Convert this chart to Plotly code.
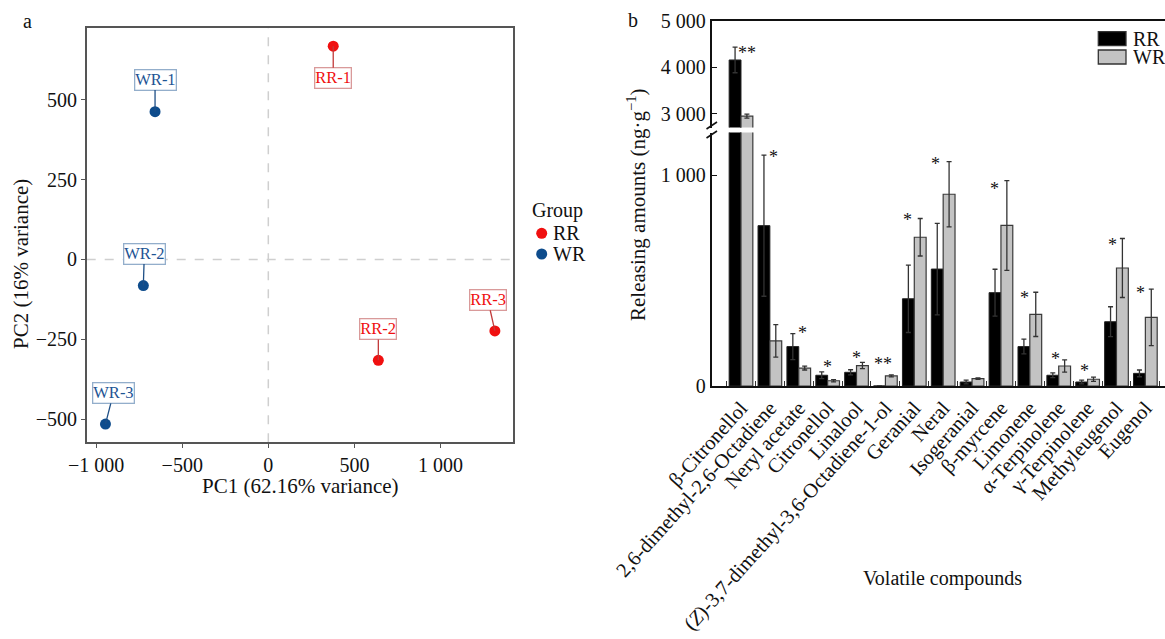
import plotly.graph_objects as go

W, H = 1165, 639
FONT = "Liberation Serif, Times New Roman, serif"

# ---------------- data: PCA (panel a) ----------------
samples = ["RR-1", "RR-2", "RR-3", "WR-1", "WR-2", "WR-3"]
sample_group = ["RR", "RR", "RR", "WR", "WR", "WR"]
pc1 = [377, 639, 1316, -658, -726, -946]
pc2 = [668, -316, -224, 463, -82, -516]
pc1_ticks = [-1000, -500, 0, 500, 1000]
pc1_ticktext = ["\u22121 000", "\u2212500", "0", "500", "1 000"]
pc2_ticks = [-500, -250, 0, 250, 500]
pc2_ticktext = ["\u2212500", "\u2212250", "0", "250", "500"]

# ---------------- data: volatile compounds (panel b) ----------------
compounds = [
    "\u03b2-Citronellol",
    "2,6-dimethyl-2,6-Octadiene",
    "Neryl acetate",
    "Citronellol",
    "Linalool",
    "(<i>Z</i>)-3,7-dimethyl-3,6-Octadiene-1-ol",
    "Geranial",
    "Neral",
    "Isogeranial",
    "\u03b2-myrcene",
    "Limonene",
    "\u03b1-Terpinolene",
    "\u03b3-Terpinolene",
    "Methyleugenol",
    "Eugenol",
]
rr_mean = [4160, 761, 187, 51, 65, 0, 414, 555, 19, 443, 187, 51, 19, 305, 60]
rr_err = [275, 335, 62, 16, 12, 0, 160, 217, 9, 111, 35, 11, 9, 71, 16]
wr_mean = [2950, 214, 85, 25, 97, 48, 706, 910, 35, 762, 340, 95, 32, 560, 326]
wr_err = [45, 77, 9, 5, 15, 5, 89, 155, 3, 213, 105, 29, 10, 140, 134]
signif = ["**", "*", "*", "*", "*", "**", "*", "*", "", "*", "*", "*", "*", "*", "*"]
low_ticks = [0, 1000]
low_ticktext = ["0", "1 000"]
high_ticks = [3000, 4000, 5000]
high_ticktext = ["3 000", "4 000", "5 000"]

# ---------------- styles ----------------
COL = {"RR": "#F01010", "WR": "#0E4C8C"}
LABEL_BORDER = {"RR": "#D99A9A", "WR": "#93AECB"}
ARROW_COL = {"RR": "#C23A3A", "WR": "#1E4F86"}
# label offsets in pixels (label centre relative to point)
label_offset = {"RR-1": (0, 32), "RR-2": (0, -31), "RR-3": (-7, -31),
                "WR-1": (0, -32), "WR-2": (1, -32), "WR-3": (8, -31)}
# asterisk pixel nudges (dx, dy up)
star_shift = [(6, -4), (4, 0), (4, 3), (0, 7), (0, 6), (-2, 13), (-7, 0), (-8, 0),
              (0, 0), (-6, -6), (-5, -4), (-3, 3), (-3, 8), (-4, -5), (-5, -2)]


def fx(x):
    """screen x pixel -> paper fraction"""
    return x / W


def fy(y):
    """screen y pixel -> paper fraction"""
    return 1 - y / H


fig = go.Figure()

# ---- panel a traces ----
for g in ["RR", "WR"]:
    idx = [i for i, s in enumerate(sample_group) if s == g]
    fig.add_trace(go.Scatter(
        x=[pc1[i] for i in idx], y=[pc2[i] for i in idx],
        mode="markers", name=g, showlegend=False,
        marker=dict(color=COL[g], size=11, line=dict(width=0)),
        xaxis="x", yaxis="y"))

# ---- panel b traces (lower and upper part of broken axis) ----
for xa, ya in [("x2", "y2"), ("x3", "y3")]:
    fig.add_trace(go.Bar(
        x=compounds, y=rr_mean, name="RR", showlegend=False,
        marker=dict(color="#000000", line=dict(color="#222222", width=1)),
        error_y=dict(type="data", array=rr_err, color="#333333", thickness=1.3, width=2.5),
        xaxis=xa, yaxis=ya))
    fig.add_trace(go.Bar(
        x=compounds, y=wr_mean, name="WR", showlegend=False,
        marker=dict(color="#C3C3C3", line=dict(color="#3A3A3A", width=1.2)),
        error_y=dict(type="data", array=wr_err, color="#333333", thickness=1.3, width=2.5),
        xaxis=xa, yaxis=ya))

tickfont = dict(family=FONT, size=20, color="#111111")

# domains (screen pixels -> paper)
a_x = [fx(86.7), fx(513.3)]
a_y = [fy(442.3), fy(28)]
b_x = [fx(711.7), 1.0]
b_low = [fy(386), fy(132.5)]
b_high = [fy(127.5), fy(21)]
cat_range = [-1.014, 14.68]

fig.update_layout(
    template="none",
    width=W, height=H,
    margin=dict(l=0, r=0, t=0, b=0, pad=0, autoexpand=False),
    showlegend=False,
    paper_bgcolor="white", plot_bgcolor="white",
    font=dict(family=FONT, size=20, color="#111111"),
    barmode="group", bargap=0.18, bargroupgap=0,
    xaxis=dict(domain=a_x, anchor="y", range=[-1055, 1423], automargin=False,
               tickvals=pc1_ticks, ticktext=pc1_ticktext, tickfont=tickfont,
               showgrid=False, zeroline=False, showline=True, mirror=True,
               linecolor="#555555", linewidth=1.5, ticks="outside", ticklen=4,
               tickcolor="#555555", tickwidth=1.2),
    yaxis=dict(domain=a_y, anchor="x", range=[-573, 725], automargin=False,
               tickvals=pc2_ticks, ticktext=pc2_ticktext, tickfont=tickfont,
               showgrid=False, zeroline=False, showline=True, mirror=True,
               linecolor="#555555", linewidth=1.5, ticks="outside", ticklen=4,
               tickcolor="#555555", tickwidth=1.2),
    xaxis2=dict(domain=b_x, anchor="y2", type="category", range=cat_range, automargin=False,
                tickangle=-48, tickfont=dict(family=FONT, size=20.5, color="#111111"),
                showgrid=False, zeroline=False, showline=True, linecolor="#111111",
                linewidth=2, ticks="inside", ticklen=5, tickson="boundaries",
                tickcolor="#333333", tickwidth=1),
    yaxis2=dict(domain=b_low, anchor="x2", range=[0, 1203], automargin=False,
                tickvals=low_ticks, ticktext=low_ticktext, tickfont=tickfont,
                showgrid=False, zeroline=False, showline=True, linecolor="#111111",
                linewidth=2, ticks="inside", ticklen=5, tickcolor="#111111"),
    xaxis3=dict(domain=b_x, anchor="y3", type="category", range=cat_range, automargin=False,
                matches="x2", side="top", showticklabels=False, ticks="",
                showgrid=False, zeroline=False, showline=True, linecolor="#111111",
                linewidth=2),
    yaxis3=dict(domain=b_high, anchor="x3", range=[2705, 5000], automargin=False,
                tickvals=high_ticks, ticktext=high_ticktext, tickfont=tickfont,
                showgrid=False, zeroline=False, showline=True, linecolor="#111111",
                linewidth=2, ticks="inside", ticklen=5, tickcolor="#111111"),
)

shapes = []
annotations = []

# dashed reference lines (panel a)
shapes.append(dict(type="line", xref="x", yref="y domain", x0=0, x1=0, y0=0, y1=1,
                   line=dict(color="#CFCFCF", width=1.5, dash="dash"), layer="below"))
shapes.append(dict(type="line", xref="x domain", yref="y", x0=0, x1=1, y0=0, y1=0,
                   line=dict(color="#CFCFCF", width=1.5, dash="dash"), layer="below"))

# sample labels
for s, g, x, y in zip(samples, sample_group, pc1, pc2):
    ax, ay = label_offset[s]
    annotations.append(dict(
        x=x, y=y, xref="x", yref="y", text=s, showarrow=True,
        ax=ax, ay=ay, arrowhead=0, arrowwidth=1.3, arrowcolor=ARROW_COL[g],
        standoff=0, startstandoff=0,
        font=dict(family=FONT, size=16.5, color=COL[g] if g == "RR" else "#1E5494"),
        bgcolor="rgba(255,255,255,0.95)", bordercolor=LABEL_BORDER[g],
        borderwidth=1.3, borderpad=0))

# legend of panel a (Group)
annotations.append(dict(x=fx(530), y=fy(210), xref="paper", yref="paper",
                        text="Group", showarrow=False, xanchor="left", yanchor="middle",
                        font=dict(family=FONT, size=20, color="#111111")))
for g, yc in [("RR", 233.3), ("WR", 254)]:
    shapes.append(dict(type="circle", xref="paper", yref="paper",
                       x0=fx(541.7 - 5.5), x1=fx(541.7 + 5.5),
                       y0=fy(yc + 5.5), y1=fy(yc - 5.5),
                       fillcolor=COL[g], line=dict(width=0)))
    annotations.append(dict(x=fx(550.5), y=fy(yc), xref="paper", yref="paper",
                            text=g, showarrow=False, xanchor="left", yanchor="middle",
                            height=20,
                            font=dict(family=FONT, size=20, color="#111111")))

# axis titles panel a
annotations.append(dict(x=fx(300), y=fy(486), xref="paper", yref="paper",
                        text="PC1 (62.16% variance)", showarrow=False,
                        xanchor="center", yanchor="middle",
                        font=dict(family=FONT, size=21, color="#111111")))
annotations.append(dict(x=fx(21), y=fy(264), xref="paper", yref="paper",
                        text="PC2 (16% variance)", showarrow=False, textangle=-90,
                        xanchor="center", yanchor="middle",
                        font=dict(family=FONT, size=21, color="#111111")))

# axis titles panel b
annotations.append(dict(x=fx(943), y=fy(578), xref="paper", yref="paper",
                        text="Volatile compounds", showarrow=False,
                        xanchor="center", yanchor="middle",
                        font=dict(family=FONT, size=20, color="#111111")))
annotations.append(dict(x=fx(637), y=fy(205), xref="paper", yref="paper",
                        text="Releasing amounts (ng\u00b7g<sup>\u22121</sup>)",
                        showarrow=False, textangle=-90,
                        xanchor="center", yanchor="middle",
                        font=dict(family=FONT, size=21, color="#111111")))

# panel letters
for letter, lx, ly in [("a", 27, 21), ("b", 633, 20)]:
    annotations.append(dict(x=fx(lx), y=fy(ly), xref="paper", yref="paper", text=letter,
                            showarrow=False, xanchor="center", yanchor="middle",
                            font=dict(family=FONT, size=20, color="#111111")))

# significance stars
for i, (c, s) in enumerate(zip(compounds, signif)):
    if not s:
        continue
    top = max(rr_mean[i] + rr_err[i], wr_mean[i] + wr_err[i])
    yref = "y3" if top > 2705 else "y2"
    xref = "x3" if yref == "y3" else "x2"
    dx, dy = star_shift[i]
    annotations.append(dict(x=c, y=top, xref=xref, yref=yref, text=s, showarrow=False,
                            xanchor="center", yanchor="middle", xshift=dx, yshift=dy - 2,
                            font=dict(family=FONT, size=18, color="#111111")))

# legend of panel b
for g, (y0, y1), fill in [("RR", (31.7, 45.7), "#000000"), ("WR", (50.0, 64.0), "#C3C3C3")]:
    shapes.append(dict(type="rect", xref="paper", yref="paper",
                       x0=fx(1098.3), x1=fx(1126), y0=fy(y1), y1=fy(y0),
                       fillcolor=fill, line=dict(color="#333333", width=1.3)))
    annotations.append(dict(x=fx(1130.5), y=fy((y0 + y1) / 2), xref="paper", yref="paper",
                            text=g, showarrow=False, xanchor="left", yanchor="middle",
                            height=18,
                            font=dict(family=FONT, size=20, color="#111111")))

# axis break marks
for yc in (125.5, 134.5):
    shapes.append(dict(type="line", xref="paper", yref="paper",
                       x0=fx(706.5), x1=fx(717), y0=fy(yc + 3.5), y1=fy(yc - 3.5),
                       line=dict(color="#111111", width=1.6)))

fig.update_layout(shapes=shapes, annotations=annotations)
fig.write_html(
    "out.html",
    config={"displayModeBar": False},
    post_script="document.body.style.margin='0';document.body.style.overflow='hidden';",
)
